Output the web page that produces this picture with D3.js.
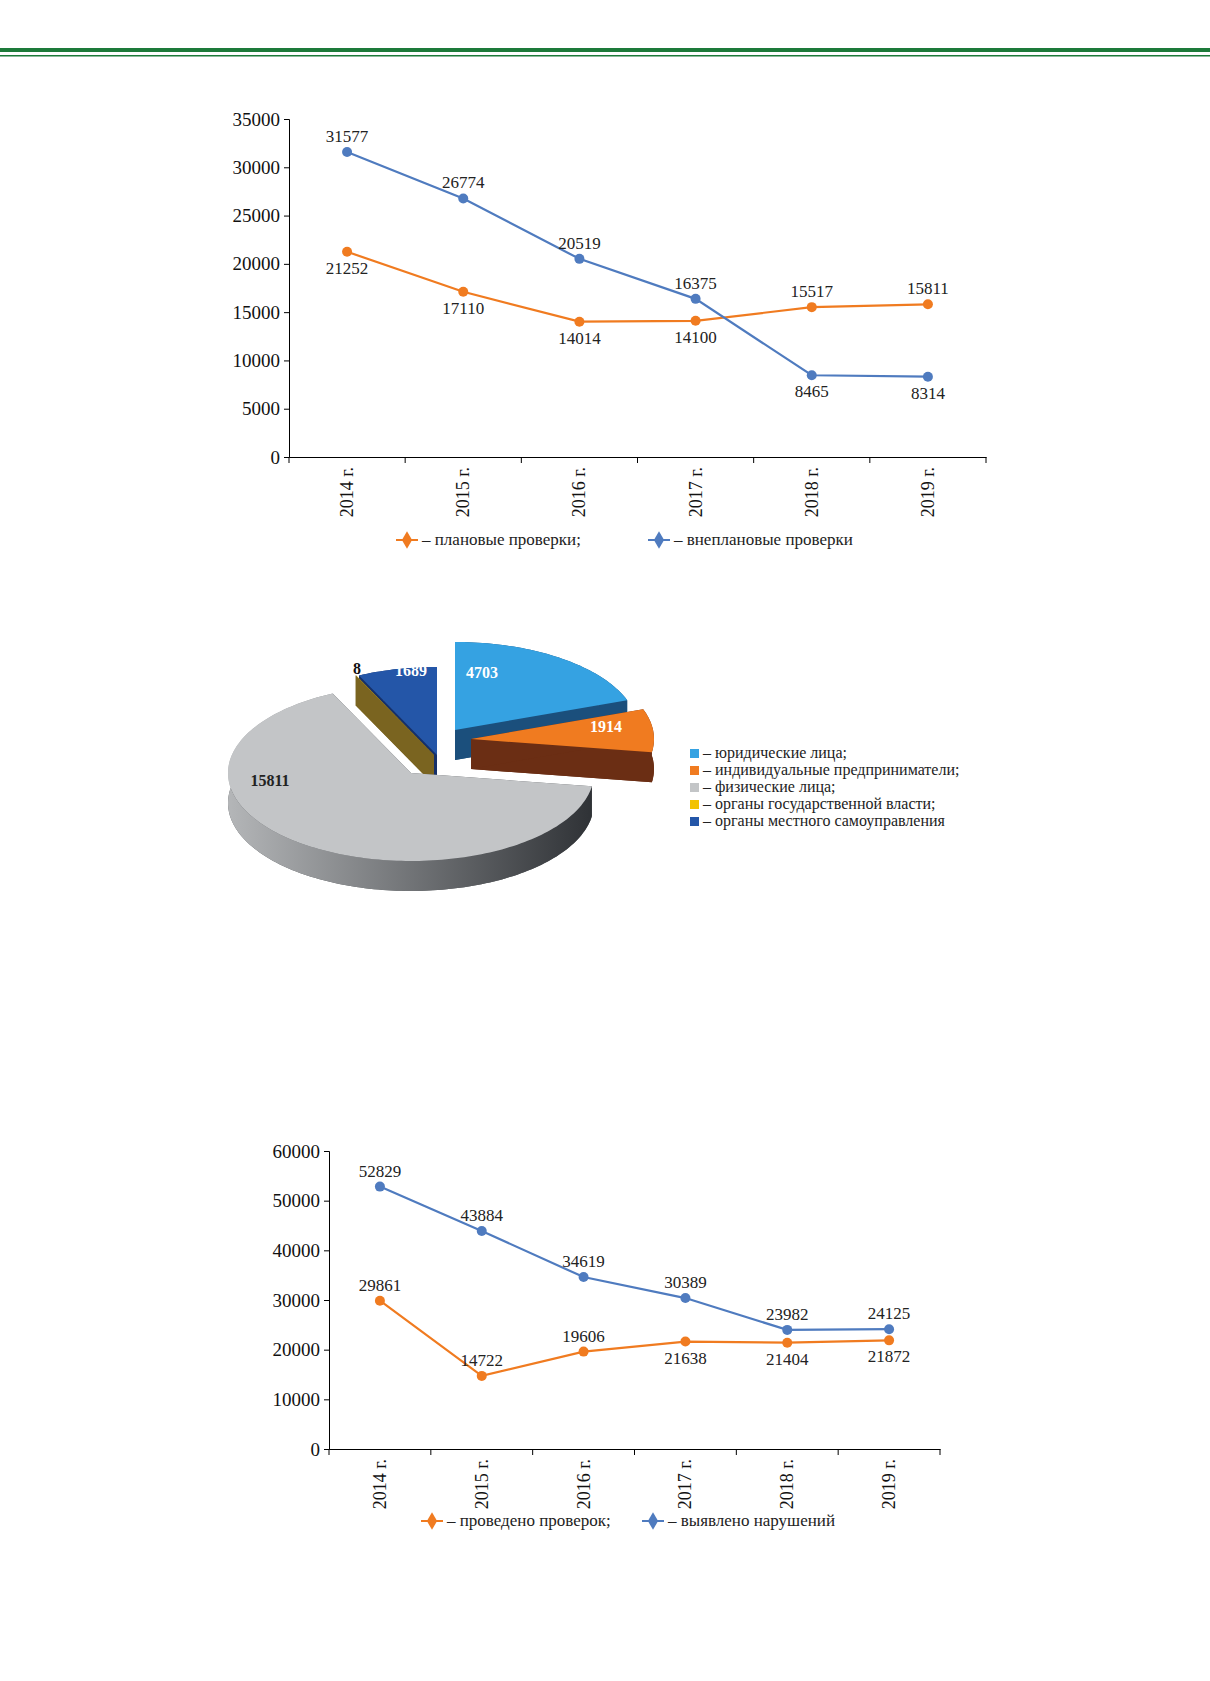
<!DOCTYPE html>
<html><head><meta charset="utf-8">
<script src="https://cdn.jsdelivr.net/npm/d3@7"></script>
<style>body{margin:0;background:#fff}svg{display:block;font-family:"Liberation Serif","DejaVu Serif",serif}</style>
</head><body>
<script>
var years = ['2014 г.', '2015 г.', '2016 г.', '2017 г.', '2018 г.', '2019 г.'];
// chart 1
var planned = [21252, 17110, 14014, 14100, 15517, 15811];
var unplanned = [31577, 26774, 20519, 16375, 8465, 8314];
var plannedPos = ['b', 'b', 'b', 'b', 'a', 'a'];
var unplannedPos = ['a', 'a', 'a', 'a', 'b', 'b'];
// pie
var pieLabels = ['юридические лица;', 'индивидуальные предприниматели;', 'физические лица;', 'органы государственной власти;', 'органы местного самоуправления'];
var pieValues = [4703, 1914, 15811, 8, 1689];
// chart 3
var checks = [29861, 14722, 19606, 21638, 21404, 21872];
var violations = [52829, 43884, 34619, 30389, 23982, 24125];
var checksPos = ['a', 'a', 'a', 'b', 'b', 'b'];
var violPos = ['a', 'a', 'a', 'a', 'a', 'a'];

var ORANGE = '#f07b20', BLUE = '#4f7bbf';
var svg = d3.select('body').append('svg').attr('width', 1210).attr('height', 1681);

svg.append('rect').attr('x', 0).attr('y', 48).attr('width', 1210).attr('height', 4).attr('fill', '#1d7a3a');
svg.append('rect').attr('x', 0).attr('y', 55).attr('width', 1210).attr('height', 1.5).attr('fill', '#1d7a3a');

function lineChart(cfg) {
	var g = svg.append('g');
	var x = d3.scaleBand().domain(years).range([cfg.left, cfg.right]);
	var y = d3.scaleLinear().domain([0, cfg.max]).range([cfg.bottom, cfg.top]);
	var ya = g.append('g').attr('transform', 'translate(' + cfg.left + ',0)')
		.call(d3.axisLeft(y).tickValues(d3.range(0, cfg.max + 1, cfg.step)).tickFormat(d3.format('d')).tickSizeOuter(0).tickSize(5).tickPadding(4));
	var xa = g.append('g').attr('transform', 'translate(0,' + cfg.bottom + ')')
		.call(d3.axisBottom(x).tickSizeOuter(0).tickSize(0).tickFormat(''));
	xa.selectAll('.sep').data(d3.range(years.length + 1)).enter().append('line')
		.attr('x1', function(i){ return cfg.left + i * x.step(); })
		.attr('x2', function(i){ return cfg.left + i * x.step(); })
		.attr('y1', 0).attr('y2', 6).attr('stroke', '#000');
	g.selectAll('.domain').attr('stroke', '#000');
	ya.selectAll('text').attr('font-size', 19).attr('font-family', 'Liberation Serif').attr('fill', '#111');
	g.selectAll('.yl').data(years).enter().append('text')
		.attr('transform', function(d){ return 'translate(' + (x(d) + x.bandwidth() / 2 + 6) + ',' + (cfg.bottom + 10) + ') rotate(-90)'; })
		.attr('text-anchor', 'end').attr('font-size', 18).attr('fill', '#111').text(function(d){ return d; });
	var cx = function(i){ return x(years[i]) + x.bandwidth() / 2; };
	cfg.series.forEach(function(s) {
		var line = d3.line().x(function(d, i){ return cx(i); }).y(function(d){ return y(d); });
		g.append('path').datum(s.values).attr('d', line).attr('fill', 'none').attr('stroke', s.color).attr('stroke-width', 2.2);
		g.selectAll(null).data(s.values).enter().append('circle')
			.attr('cx', function(d, i){ return cx(i); }).attr('cy', function(d){ return y(d); })
			.attr('r', 5).attr('fill', s.color);
		g.selectAll(null).data(s.values).enter().append('text')
			.attr('x', function(d, i){ return cx(i); })
			.attr('y', function(d, i){ return y(d) + (s.pos[i] === 'a' ? -10 : 22); })
			.attr('text-anchor', 'middle').attr('font-size', 17).attr('fill', '#222').text(function(d){ return d; });
	});
	cfg.legend.forEach(function(l) {
		g.append('line').attr('x1', l.x - 14).attr('x2', l.x + 8).attr('y1', cfg.legendY).attr('y2', cfg.legendY).attr('stroke', l.color).attr('stroke-width', 2);
		g.append('path').attr('d', d3.symbol(d3.symbolDiamond, 90)()).attr('transform', 'translate(' + (l.x - 3) + ',' + cfg.legendY + ')').attr('fill', l.color);
		g.append('text').attr('x', l.x + 12).attr('y', cfg.legendY + 5).attr('font-size', 17).attr('fill', '#222').text('– ' + l.text);
	});
}

lineChart({left: 289, right: 986, top: 119, bottom: 457, max: 35000, step: 5000, legendY: 540,
	series: [{values: planned, color: ORANGE, pos: plannedPos}, {values: unplanned, color: BLUE, pos: unplannedPos}],
	legend: [{x: 410, color: ORANGE, text: 'плановые проверки;'}, {x: 662, color: BLUE, text: 'внеплановые проверки'}]});

lineChart({left: 329, right: 940, top: 1151, bottom: 1449, max: 60000, step: 10000, legendY: 1521,
	series: [{values: checks, color: ORANGE, pos: checksPos}, {values: violations, color: BLUE, pos: violPos}],
	legend: [{x: 435, color: ORANGE, text: 'проведено проверок;'}, {x: 656, color: BLUE, text: 'выявлено нарушений'}]});

// 3D pie
var topC = ['#35a2e2', '#f07b20', '#c3c5c7', '#f2c200', '#2456a8'];
var sideC = ['#1b4f7c', '#6b2e14', '#55585b', '#7a6420', '#15306a'];
var labC = ['#fff', '#fff', '#222', '#111', '#fff'];
var labPos = [[482, 678], [606, 732], [270, 786], [357, 674], [411, 676]];
var pc = {x: 448, y: 730}, rx = 183, ry = 88, depth = 30;
var offs = [[7, 0], [23, 9], [-37, 43], [-14, 25], [-11, 25]];
var arcs = d3.pie().sort(null)(pieValues);
function pt(a, ox, oy, dz){ return [ox + rx * Math.sin(a), oy - ry * Math.cos(a) + dz]; }
var pg = svg.append('g');
var order = arcs.map(function(a, i){ return i; }).sort(function(a, b){
	var ma = (arcs[a].startAngle + arcs[a].endAngle) / 2, mb = (arcs[b].startAngle + arcs[b].endAngle) / 2;
	return -Math.cos(ma) - -Math.cos(mb);
});
order.forEach(function(i) {
	var a = arcs[i];
	var ox = pc.x + offs[i][0], oy = pc.y + offs[i][1];
	var n = Math.max(2, Math.ceil((a.endAngle - a.startAngle) * 40));
	var angs = d3.range(n + 1).map(function(k){ return a.startAngle + (a.endAngle - a.startAngle) * k / n; });
	var top = [[ox, oy]].concat(angs.map(function(t){ return pt(t, ox, oy, 0); }));
	var bot = [[ox, oy + depth]].concat(angs.map(function(t){ return pt(t, ox, oy, depth); }));
	[a.startAngle, a.endAngle].forEach(function(t) {
		var p = pt(t, ox, oy, 0);
		pg.append('path').attr('d', d3.line()([[ox, oy], p, [p[0], p[1] + depth], [ox, oy + depth]]) + 'Z').attr('fill', sideC[i]);
	});
	var wall = angs.map(function(t){ return pt(t, ox, oy, 0); }).concat(angs.slice().reverse().map(function(t){ return pt(t, ox, oy, depth); }));
	var grad = pg.append('linearGradient').attr('id', 'gw' + i).attr('x1', 0).attr('x2', 1);
	grad.append('stop').attr('offset', 0).attr('stop-color', i === 2 ? '#b4b6b8' : sideC[i]);
	grad.append('stop').attr('offset', 1).attr('stop-color', i === 2 ? '#2f3236' : sideC[i]);
	pg.append('path').attr('d', d3.line()(bot) + 'Z').attr('fill', sideC[i]);
	pg.append('path').attr('d', d3.line()(wall) + 'Z').attr('fill', 'url(#gw' + i + ')');
	pg.append('path').attr('d', d3.line()(top) + 'Z').attr('fill', topC[i]);
});
arcs.forEach(function(a, i) {
	pg.append('text').attr('x', labPos[i][0]).attr('y', labPos[i][1])
		.attr('text-anchor', 'middle').attr('font-size', 16).attr('font-weight', 'bold').attr('fill', labC[i]).text(pieValues[i]);
});
var lg = svg.append('g');
pieLabels.forEach(function(l, i) {
	lg.append('rect').attr('x', 690).attr('y', 749 + i * 17).attr('width', 9).attr('height', 9).attr('fill', topC[i]);
	lg.append('text').attr('x', 703).attr('y', 758 + i * 17).attr('font-size', 16).attr('fill', '#222').text('– ' + l);
});
</script>
</body></html>
